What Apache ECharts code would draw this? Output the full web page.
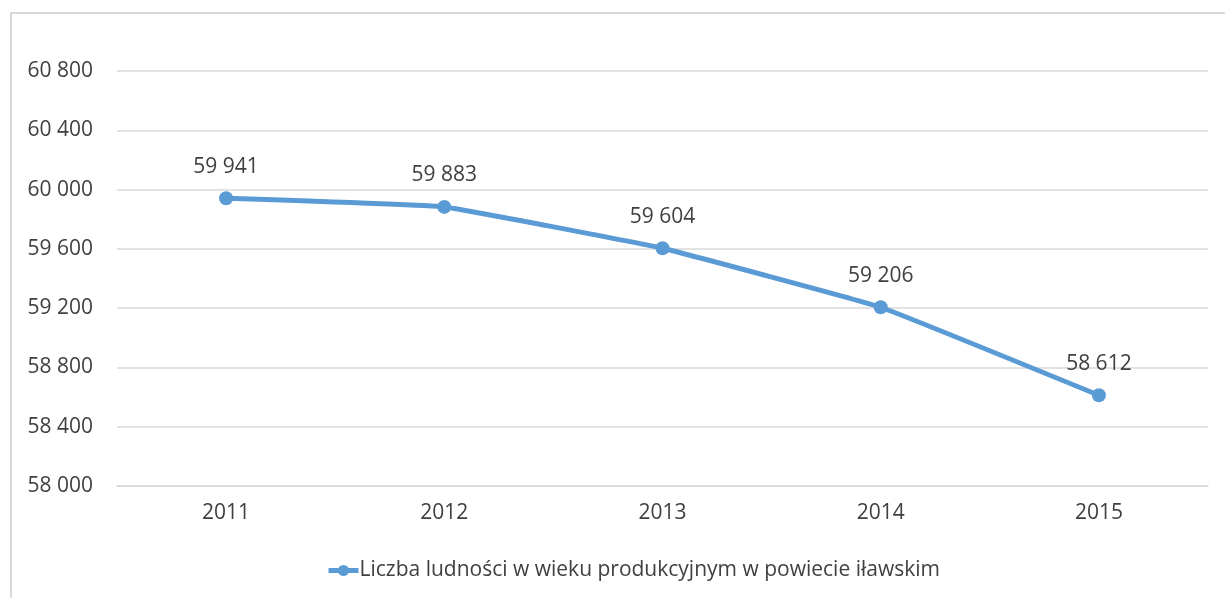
<!DOCTYPE html>
<html>
<head>
<meta charset="utf-8">
<script src="https://cdn.jsdelivr.net/npm/echarts@6/dist/echarts.min.js"></script>
<style>
  html, body { margin: 0; padding: 0; background: #fff; }
  #frame { position: absolute; left: 10px; top: 12px; right: 0; bottom: 0;
           border-left: 2px solid #d9d9d9; border-top: 2px solid #d9d9d9; }
  #main { position: absolute; left: 0; top: 0; width: 1225px; height: 598px; }
</style>
</head>
<body>
<div id="frame"></div>
<div id="main"></div>
<script>
// lata i liczba ludności w wieku produkcyjnym
const years = ['2011', '2012', '2013', '2014', '2015'];
const population = [59941, 59883, 59604, 59206, 58612];
const seriesName = 'Liczba ludności w wieku produkcyjnym w powiecie iławskim';

const fmt = v => String(v).replace(/\B(?=(\d{3})+(?!\d))/g, ' ');

const textColor = '#404040';
const font = 'Open Sans';

let chart = echarts.init(document.getElementById('main'), null, { renderer: 'canvas' });

let option = {
    backgroundColor: 'transparent',
    animation: false,
    grid: {
        left: 117,
        right: 17,
        top: 71,
        bottom: 112
    },
    legend: {
        data: [seriesName],
        left: 321,
        top: 555,
        itemWidth: 30,
        itemHeight: 14,
        itemGap: 4,
        lineStyle: { width: 5 },
        textStyle: { color: textColor, fontSize: 21, fontFamily: font, padding: [0, 0, 0, -4] }
    },
    xAxis: {
        type: 'category',
        data: years,
        boundaryGap: true,
        axisLine: { lineStyle: { color: '#d9d9d9', width: 1.5 } },
        axisTick: { show: false },
        axisLabel: { color: textColor, fontSize: 21, fontFamily: font, margin: 17 }
    },
    yAxis: {
        type: 'value',
        min: 58000,
        max: 60800,
        interval: 400,
        axisLine: { show: false },
        axisTick: { show: false },
        splitLine: { lineStyle: { color: '#d9d9d9', width: 1.5 } },
        axisLabel: {
            color: textColor, fontSize: 21, fontFamily: font, margin: 24,
            formatter: v => fmt(v)
        }
    },
    series: [{
        name: seriesName,
        type: 'line',
        data: population,
        smooth: 0.08,
        symbol: 'circle',
        symbolSize: 14,
        lineStyle: { color: '#5b9bd5', width: 5 },
        itemStyle: { color: '#5b9bd5' },
        label: {
            show: true,
            position: 'top',
            distance: 14,
            color: textColor,
            fontSize: 21,
            fontFamily: font,
            formatter: p => fmt(p.value)
        }
    }]
};

chart.setOption(option);
</script>
</body>
</html>
